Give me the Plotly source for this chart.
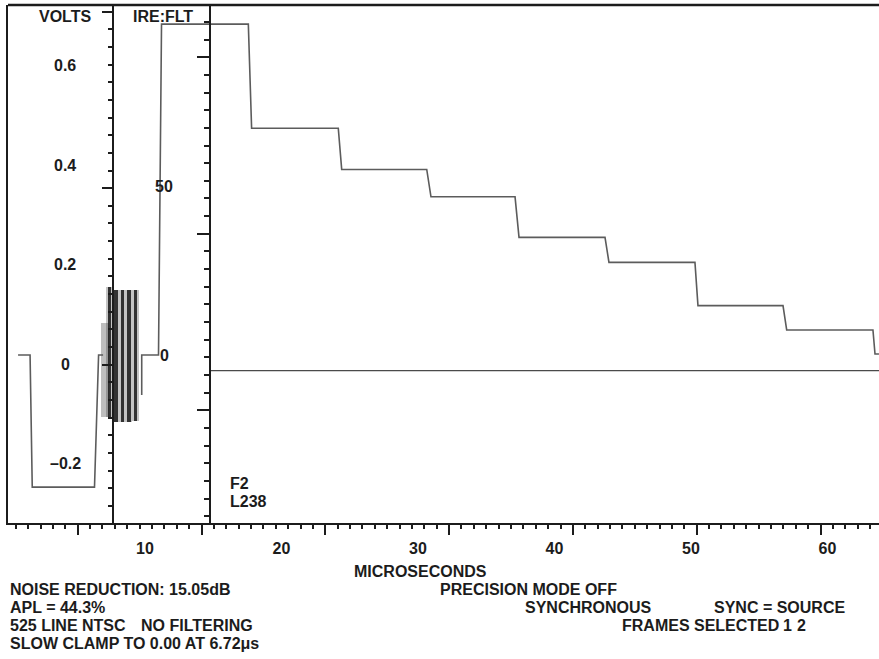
import plotly.graph_objects as go

# ---------------- data ----------------
# main trace: time in microseconds, level in IRE (None = pen lift)
wave_t = [0.70, 1.58, 1.74, 6.30, 6.60, 6.93, None,
          9.76, 9.76, 10.99, 11.21, 17.57, 17.81, 24.16, 24.41, 30.64, 30.95,
          37.11, 37.40, 43.70, 43.99, 50.29, 50.51, 56.74, 57.01, 63.33, 63.48, 63.77]
wave_ire = [0, 0, -39.1, -39.1, 0, 0, None,
            -11.8, 0, 0, 97.9, 97.9, 67.1, 67.1, 54.9, 54.9, 46.8,
            46.8, 34.8, 34.8, 27.4, 27.4, 14.6, 14.6, 7.4, 7.4, 0.3, 0.3]

# colour burst bands (aliased on screen): centre time, top and bottom IRE
burst_t = [7.40, 7.88, 8.35, 8.83, 9.30]
burst_hi = [20.1, 19.2, 19.2, 19.2, 19.2]
burst_lo = [-18.3, -19.8, -19.8, -19.8, -19.5]
burst_lead_t = [7.07]
burst_lead_hi = [9.5]
burst_lead_lo = [-18.3]

cursor_ire = -4.6

time_ticks = [10, 20, 30, 40, 50, 60]
volt_ticks = [0.6, 0.4, 0.2, 0, -0.2]
volt_labels = ["0.6", "0.4", "0.2", "0", "\u20130.2"]
ire_ticks = [50, 0]
ire_labels = ["50", "0"]

left_notes = ["NOISE REDUCTION: 15.05dB", "APL = 44.3%", "525 LINE NTSC",
              "SLOW CLAMP TO 0.00 AT 6.72\u03bcs"]

# ---------------- geometry (pixels) ----------------
W, H = 879, 659
L, R, T, B = 8, 879, 5, 523
T0_PX, PX_PER_US = 8.5, 13.65
BLANK_PX, PX_PER_IRE = 355.0, 3.38
V0_PX, PX_PER_V = 364.0, 497.0
LINE1_X, LINE2_X = 113.0, 210.0


def px(x):
    return (x - L) / (R - L)


def py(y):
    return (B - y) / (B - T)


def ire_of_px(y):
    return (BLANK_PX - y) / PX_PER_IRE


FONT = "Liberation Sans, Arial, Helvetica, sans-serif"
FS = 16
INK = "#1c1c1c"
TRACE = "#5c5c5c"

fig = go.Figure()

# burst halo + dark bands
fig.add_trace(go.Bar(x=burst_lead_t, y=[h - l for h, l in zip(burst_lead_hi, burst_lead_lo)],
                     base=burst_lead_lo, width=0.55, marker=dict(color="rgba(70,70,70,0.35)", line=dict(width=0)),
                     showlegend=False, hoverinfo="skip"))
fig.add_trace(go.Bar(x=burst_t, y=[h - l for h, l in zip(burst_hi, burst_lo)],
                     base=burst_lo, width=0.50, marker=dict(color="rgba(60,60,60,0.30)", line=dict(width=0)),
                     showlegend=False, hoverinfo="skip"))
fig.add_trace(go.Bar(x=burst_t, y=[h - l for h, l in zip(burst_hi, burst_lo)],
                     base=burst_lo, width=0.28, marker=dict(color="rgba(25,25,25,0.85)", line=dict(width=0)),
                     showlegend=False, hoverinfo="skip"))

fig.add_trace(go.Scatter(x=wave_t, y=wave_ire, mode="lines",
                         line=dict(color=TRACE, width=1.6), connectgaps=False,
                         showlegend=False, hoverinfo="skip"))

fig.update_layout(
    width=W, height=H,
    margin=dict(l=L, r=W - R, t=T, b=H - B, pad=0),
    paper_bgcolor="white", plot_bgcolor="white",
    barmode="overlay", bargap=0,
    font=dict(family=FONT, size=FS, color=INK),
    xaxis=dict(range=[(L - T0_PX) / PX_PER_US, (R - T0_PX) / PX_PER_US],
               showgrid=False, zeroline=False, showline=True, linewidth=2.2, linecolor=INK,
               tickvals=time_ticks, ticktext=[str(v) for v in time_ticks],
               ticks="outside", ticklen=10, tickcolor="rgba(0,0,0,0)",
               tickfont=dict(family=FONT, size=FS, color=INK, weight="bold")),
    yaxis=dict(range=[ire_of_px(B), ire_of_px(T)], showgrid=False, zeroline=False,
               showline=True, linewidth=2.2, linecolor=INK, showticklabels=False, ticks=""),
)

# ---------------- graticule (fixed screen scale, drawn as paper shapes) ----------------
GX0, GX_MIN = 77.7, 12.38
G1_0, G2_0, GY_MIN = 11.7, 57.3, 17.65


def tick_path(segs):
    return " ".join("M %.5f,%.5f L %.5f,%.5f" % s for s in segs)


bx_major, bx_minor = [], []
for n in range(-10, 70):
    xg = GX0 + n * GX_MIN
    if xg < L + 3 or xg > R:
        continue
    xs = round(xg)
    ln = 12 if n % 10 == 0 else 6
    seg = (px(xs), py(B), px(xs), py(B + ln))
    (bx_major if n % 10 == 0 else bx_minor).append(seg)


def vert_ticks(xline, start, major_len, minor_len):
    maj, mnr = [], []
    for n in range(-5, 40):
        yg = start + n * GY_MIN
        if yg < T - 0.5 or yg > B + 0.5:
            continue
        ys = round(yg)
        ln = major_len if n % 10 == 0 else minor_len
        seg = (px(xline - ln), py(ys), px(xline), py(ys))
        (maj if n % 10 == 0 else mnr).append(seg)
    return maj, mnr


v1_maj, v1_min = vert_ticks(LINE1_X, G1_0, 11, 5)
v2_maj, v2_min = vert_ticks(LINE2_X, G2_0, 13, 6)

shapes = [
    dict(type="line", xref="paper", yref="paper", x0=0, x1=1, y0=1, y1=1,
         line=dict(color=INK, width=2.6)),
    dict(type="line", xref="paper", yref="paper", x0=px(LINE1_X), x1=px(LINE1_X), y0=0, y1=1,
         line=dict(color=INK, width=2)),
    dict(type="line", xref="paper", yref="paper", x0=px(LINE2_X), x1=px(LINE2_X), y0=0, y1=1,
         line=dict(color=INK, width=2)),
    dict(type="line", xref="paper", yref="y", x0=px(LINE2_X + 1), x1=1, y0=cursor_ire, y1=cursor_ire,
         line=dict(color="#4a4a4a", width=1.3)),
]
for segs, w in [(bx_major, 2), (bx_minor, 2), (v1_maj, 2), (v1_min, 2),
                (v2_maj, 2), (v2_min, 2)]:
    shapes.append(dict(type="path", xref="paper", yref="paper", path=tick_path(segs),
                       line=dict(color=INK, width=w)))
fig.update_layout(shapes=shapes)

ann = []


def note(text, x, y, anchor="left"):
    ann.append(dict(text="<b>%s</b>" % text, xref="paper", yref="paper",
                    x=px(x), y=py(y), xanchor=anchor, yanchor="middle",
                    showarrow=False, font=dict(family=FONT, size=FS, color=INK)))


# volts labels
for v, lab in zip(volt_ticks, volt_labels):
    ann.append(dict(text="<b>%s</b>" % lab, xref="paper", yref="paper",
                    x=px(65), y=py(V0_PX - v * PX_PER_V), xanchor="center", yanchor="middle",
                    showarrow=False, font=dict(family=FONT, size=FS, color=INK)))
# IRE labels
for v, lab in zip(ire_ticks, ire_labels):
    ann.append(dict(text="<b>%s</b>" % lab, xref="paper", yref="y",
                    x=px(164), y=v, xanchor="center", yanchor="middle",
                    showarrow=False, font=dict(family=FONT, size=FS, color=INK)))

note("VOLTS", 65, 17, "center")
note("IRE:FLT", 163, 17, "center")
note("F2", 228, 483)
note("L238", 228, 501)
note("MICROSECONDS", 420, 571, "center")
for i, txt in enumerate(left_notes):
    note(txt, 8, 589 + 18.3 * i)
note("NO FILTERING", 139, 625)
note("PRECISION MODE OFF", 438, 589)
note("SYNCHRONOUS", 523, 607)
note("SYNC = SOURCE", 712, 607)
note("FRAMES SELECTED", 620, 625)
note("1", 787, 625, "center")
note("2", 801, 625, "center")

fig.update_layout(annotations=ann)

fig.write_html("out.html", config={"displayModeBar": False},
               post_script="document.body.style.margin='0';document.body.style.padding='0';")
